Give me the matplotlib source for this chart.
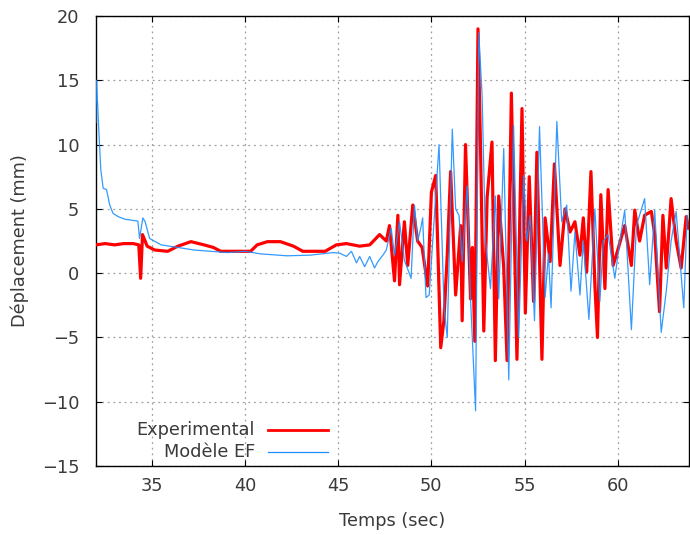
import matplotlib
matplotlib.use("Agg")
import matplotlib.pyplot as plt
from matplotlib.lines import Line2D

# Experimental (red)
t_exp = [32.0, 32.5, 33.0, 33.5, 34.0, 34.3, 34.4, 34.5, 34.75, 35.15,
         35.85, 36.4, 37.1, 37.8, 38.3, 38.7, 39.6, 40.3, 40.65, 41.2,
         41.9, 42.6, 43.1, 44.3, 44.9, 45.44, 46.15, 46.69, 47.22, 47.58,
         47.75, 48.02, 48.2, 48.29, 48.55, 48.73, 49.0, 49.26, 49.5, 49.8,
         50.0, 50.23, 50.5, 50.67, 50.85, 51.03, 51.3, 51.57, 51.65, 51.83,
         52.1, 52.2, 52.33, 52.5, 52.63, 52.81, 52.99, 53.25, 53.43, 53.61,
         53.88, 54.06, 54.29, 54.59, 54.86, 55.04, 55.25, 55.48, 55.66, 55.93,
         56.1, 56.37, 56.6, 56.9, 57.17, 57.44, 57.7, 57.97, 58.15, 58.33,
         58.56, 58.77, 58.91, 59.09, 59.31, 59.48, 59.75, 60.02, 60.37, 60.73,
         60.91, 61.17, 61.44, 61.8, 61.98, 62.24, 62.42, 62.6, 62.86, 63.13,
         63.4, 63.67, 63.8]
y_exp = [2.2, 2.3, 2.2, 2.3, 2.3, 2.2, -0.4, 3.0, 2.1, 1.8,
         1.7, 2.1, 2.45, 2.2, 2.0, 1.7, 1.7, 1.7, 2.2, 2.45,
         2.45, 2.1, 1.7, 1.7, 2.2, 2.3, 2.1, 2.2, 3.0, 2.5,
         3.7, -0.6, 4.5, -0.9, 4.0, 0.6, 5.3, 2.5, 2.0, -1.0,
         6.3, 7.6, -5.8, -3.7, 1.4, 7.9, -1.7, 3.7, -3.7, 10.0,
         -2.0, 2.0, -5.3, 19.0, 10.2, -4.5, 5.9, 10.2, -6.8, 6.0,
         0.4, -6.8, 14.0, -6.7, 12.8, -3.1, 7.5, -2.2, 9.4, -6.7,
         4.3, 0.9, 8.5, 0.6, 5.0, 3.2, 4.0, 1.4, 4.3, 0.1,
         7.9, -0.9, -5.0, 6.1, -1.2, 6.5, 0.6, 1.9, 3.7, 0.6,
         4.9, 2.5, 4.5, 4.8, 3.0, -3.0, 4.5, 0.4, 5.8, 2.5,
         0.4, 4.4, 3.5]

# Modele EF (blue)
t_ef = [32.0, 32.03, 32.08, 32.16, 32.26, 32.39, 32.57, 32.74, 32.92, 33.19,
        33.54, 34.25, 34.34, 34.52, 34.64, 34.88, 35.5, 36.39, 37.27, 39.05,
        40.03, 40.83, 42.25, 43.49, 44.73, 45.09, 45.44, 45.71, 45.98, 46.15,
        46.42, 46.69, 46.95, 47.13, 47.4, 47.58, 47.84, 48.02, 48.29, 48.55,
        48.91, 49.09, 49.26, 49.43, 49.53, 49.71, 49.88, 50.14, 50.41, 50.68,
        50.85, 51.12, 51.3, 51.48, 51.65, 51.92, 52.1, 52.37, 52.54, 52.72,
        52.9, 53.17, 53.43, 53.61, 53.88, 54.15, 54.41, 54.68, 54.95, 55.12,
        55.3, 55.53, 55.8, 56.1, 56.28, 56.42, 56.73, 56.99, 57.26, 57.49,
        57.7, 57.97, 58.15, 58.45, 58.77, 59.04, 59.22, 59.48, 59.84, 60.11,
        60.37, 60.73, 61.0, 61.44, 61.71, 61.98, 62.33, 62.6, 62.86, 63.13,
        63.54, 63.72]
y_ef = [11.7, 15.0, 13.5, 11.0, 8.1, 6.6, 6.5, 5.3, 4.65, 4.4,
        4.2, 4.05, 2.7, 4.3, 4.0, 2.7, 2.2, 2.0, 1.8, 1.6,
        1.7, 1.5, 1.35, 1.4, 1.6, 1.55, 1.3, 1.7, 0.8, 1.3,
        0.5, 1.3, 0.4, 0.9, 1.4, 1.8, 3.5, 1.4, 4.0, 1.0,
        -0.4, 5.3, 2.5, 3.5, 4.3, -1.9, -1.7, 4.0, 10.0, -2.7,
        -5.0, 11.2, 5.0, 4.5, 0.9, 6.8, -2.0, -10.7, 18.7, 13.8,
        2.5, -1.2, 6.0, -2.0, 9.7, -8.3, 11.5, -5.0, 7.6, 2.5,
        4.5, -3.7, 11.4, -1.9, 1.5, -2.7, 11.8, 4.0, 5.3, -1.4,
        3.2, -1.7, 2.5, -3.6, 5.0, -2.2, 2.5, 3.0, -0.4, 2.5,
        4.9, -4.4, 3.7, 5.8, -0.9, 4.9, -4.6, -1.4, 2.5, 4.8,
        -2.7, 4.5]

xticks = [35, 40, 45, 50, 55, 60]
yticks = [-15, -10, -5, 0, 5, 10, 15, 20]

txt = '#3a3a3a'
plt.rcParams['font.family'] = 'DejaVu Sans'
plt.rcParams['font.size'] = 12.8

fig = plt.figure(figsize=(6.9, 5.35), dpi=100)
ax = fig.add_axes([0.139, 0.129, 0.859, 0.841])

ax.plot(t_exp, y_exp, color='#ff0000', lw=2.3, zorder=3)
ax.plot(t_ef, y_ef, color='#1e8fff', lw=0.9, alpha=0.9, zorder=4)

ax.set_xlim(32, 63.8)
ax.set_ylim(-15, 20)
ax.set_xticks(xticks)
ax.set_yticks(yticks)
ax.grid(True, color='#a0a0a0', ls=(0, (1.5, 3)), lw=0.9)
ax.tick_params(direction='in', length=4, width=0.8, top=True, right=True,
               colors='black', labelcolor=txt)
ax.tick_params(axis='x', pad=8)
ax.tick_params(axis='y', pad=12)
for s in ax.spines.values():
    s.set_linewidth(1.0)

ax.set_xlabel('Temps (sec)', color=txt, labelpad=12)
ax.set_ylabel('Déplacement (mm)', color=txt, labelpad=9)

# gnuplot-style key: text right aligned, sample line on the right
ax.text(0.268, 0.08, 'Experimental', transform=ax.transAxes, ha='right', va='center', color=txt)
ax.text(0.268, 0.031, 'Modèle EF', transform=ax.transAxes, ha='right', va='center', color=txt)
ax.add_line(Line2D([0.29, 0.391], [0.08, 0.08], transform=ax.transAxes, color='#ff0000', lw=2.0))
ax.add_line(Line2D([0.29, 0.391], [0.031, 0.031], transform=ax.transAxes, color='#1e8fff', lw=0.9))

fig.savefig('out.png', dpi=100)
